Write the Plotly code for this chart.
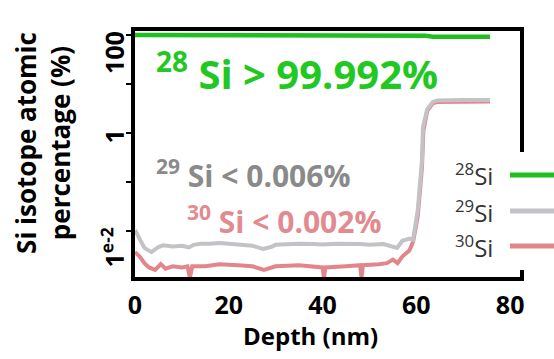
import plotly.graph_objects as go

# ---- data ----
depth_29 = [0, 1, 2, 3.5, 5, 6, 8, 10, 11.5, 12.5, 14, 16, 18, 20, 22, 25, 27.3, 29, 30, 33, 35,
            38, 40, 43, 45, 48, 50, 53, 55.9, 57, 58.6, 59.3, 60.3, 61.2, 61.4, 62.3, 63.5, 64.5, 70, 75.7]
si29 = [0.0105, 0.007, 0.0045, 0.0037, 0.0047, 0.0051, 0.0048, 0.005, 0.0046, 0.0052, 0.0055, 0.0055,
        0.0057, 0.0055, 0.0053, 0.005, 0.0043, 0.0047, 0.0052, 0.0054, 0.0055, 0.0054, 0.0053, 0.0055,
        0.0055, 0.0054, 0.0052, 0.0054, 0.0045, 0.0063, 0.007, 0.0066, 0.027, 0.28, 1.3, 3.0, 4.3, 4.6, 4.7, 4.7]

depth_30 = [0, 1, 2, 3, 4.3, 5.5, 6.5, 8, 10, 11.2, 11.7, 12.2, 15, 18, 22, 25, 27.5, 30, 35, 40, 40.3,
            40.6, 45, 48, 48.3, 48.6, 52, 53.7, 55, 56, 57, 58, 58.5, 59.3, 60.3, 61.2, 61.5, 62.3, 63.5,
            64.5, 70, 75.7]
si30 = [0.0037, 0.003, 0.0022, 0.0018, 0.0016, 0.0021, 0.0017, 0.0019, 0.0018, 0.0019, 0.0011, 0.0019,
        0.0019, 0.0021, 0.002, 0.0019, 0.0016, 0.0019, 0.002, 0.0018, 0.0011, 0.0018, 0.0019, 0.002,
        0.0011, 0.002, 0.0021, 0.0022, 0.0026, 0.0022, 0.003, 0.0035, 0.004, 0.006, 0.02, 0.2, 1.1, 2.8,
        4.0, 4.3, 4.4, 4.4]

depth_28 = [0, 20, 40, 60, 61, 62, 63.5, 70, 75.7]
si28 = [99.99, 99.99, 99.99, 99.99, 99.9, 96, 92, 92, 92]

x_ticks = [0, 20, 40, 60, 80]
y_tickvals = [0.001, 0.01, 0.1, 1, 10, 100]
y_ticktext = ["", "1<sup>e-2</sup>", "", "1", "", "100"]

series_names = ["<sup>28</sup>Si", "<sup>29</sup>Si", "<sup>30</sup>Si"]
colors = ["#1fbf1f", "#c3c3c7", "#e3868c"]

FONT = "Open Sans"

fig = go.Figure()
fig.add_trace(go.Scatter(x=depth_30, y=si30, mode="lines", line=dict(color=colors[2], width=4),
                         showlegend=False))
fig.add_trace(go.Scatter(x=depth_29, y=si29, mode="lines", line=dict(color=colors[1], width=4),
                         showlegend=False))
fig.add_trace(go.Scatter(x=depth_28, y=si28, mode="lines", line=dict(color=colors[0], width=4.5),
                         showlegend=False))

fig.update_layout(
    width=554, height=359,
    margin=dict(l=135, r=34, t=31, b=82),
    paper_bgcolor="white", plot_bgcolor="white",
    showlegend=False,
    font=dict(family=FONT, color="black"),
)
fig.update_xaxes(
    range=[0, 82.1], tickvals=x_ticks, showgrid=False, zeroline=False,
    showline=True, linecolor="black", linewidth=3.5, mirror=True,
    ticks="", ticklabelstandoff=3,
    tickfont=dict(family=FONT, size=25, weight="bold", color="black"),
)
fig.update_yaxes(
    type="log", range=[-2.94, 2.08], tickvals=y_tickvals, ticktext=y_ticktext,
    showgrid=False, zeroline=False, showline=True, linecolor="black", linewidth=3.5, mirror=True,
    ticks="outside", ticklen=5, tickwidth=1.5, tickcolor="black", tickangle=-89.9,
    ticklabelstandoff=10,
    tickfont=dict(family=FONT, size=25, weight="bold", color="black"),
)

# axis titles
fig.add_annotation(xref="paper", yref="paper", x=-0.239, y=0.545, textangle=-90,
                   xanchor="center", yanchor="middle",
                   text="Si isotope atomic<br>percentage (%)", showarrow=False,
                   font=dict(family=FONT, size=26, weight="bold", color="black"))
fig.add_annotation(xref="paper", yref="paper", x=0.457, y=-0.238,
                   xanchor="center", yanchor="middle",
                   text="Depth (nm)", showarrow=False,
                   font=dict(family=FONT, size=24, weight="bold", color="black"))

# in-plot labels
fig.add_annotation(xref="paper", yref="paper", x=0.422, y=0.837, xanchor="center", yanchor="middle",
                   showarrow=False, text="<sup>28</sup> Si > 99.992%",
                   font=dict(family=FONT, size=40, weight="bold", color="#22c822"))
fig.add_annotation(xref="paper", yref="paper", x=0.306, y=0.42, xanchor="center", yanchor="middle",
                   showarrow=False, text="<sup>29</sup> Si < 0.006%",
                   font=dict(family=FONT, size=30, weight="bold", color="#8a8a8a"))
fig.add_annotation(xref="paper", yref="paper", x=0.386, y=0.232, xanchor="center", yanchor="middle",
                   showarrow=False, text="<sup>30</sup> Si < 0.002%",
                   font=dict(family=FONT, size=30, weight="bold", color="#e38a90"))

# custom legend (text left, line sample right)
fig.add_shape(type="rect", xref="paper", yref="paper", x0=0.792, x1=1.09, y0=0.028, y1=0.508,
              fillcolor="white", line=dict(width=0), layer="above")
leg_y = [0.415, 0.268, 0.126]
for name, col, yy in zip(series_names, colors, leg_y):
    fig.add_shape(type="line", xref="paper", yref="paper", x0=0.974, x1=1.09, y0=yy, y1=yy,
                  line=dict(color=col, width=5), layer="above")
    fig.add_annotation(xref="paper", yref="paper", x=0.935, y=yy, xanchor="right", yanchor="middle",
                       showarrow=False, text=name,
                       font=dict(family=FONT, size=24, color="#333333"))

fig.write_html("out.html")
